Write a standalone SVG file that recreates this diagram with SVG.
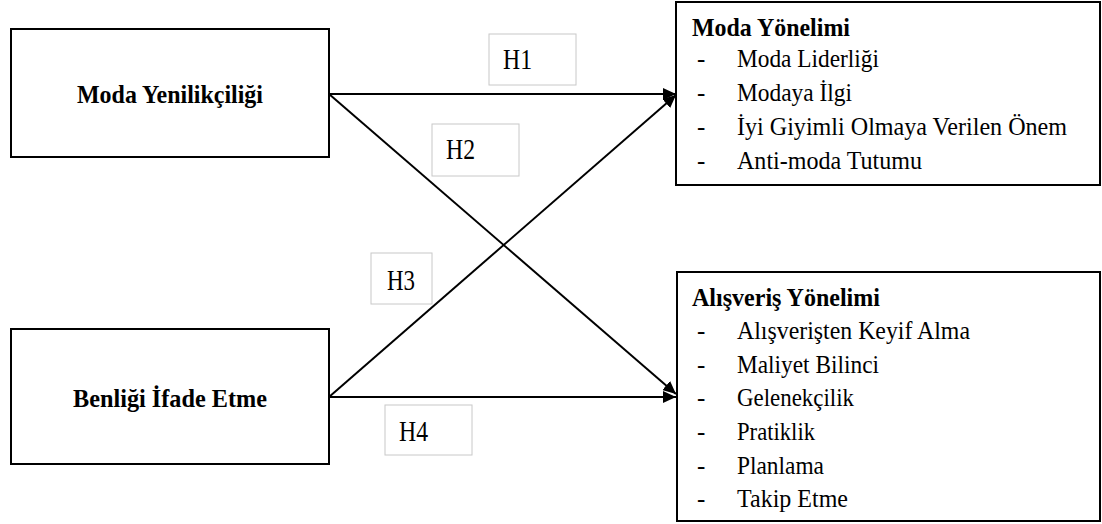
<svg xmlns="http://www.w3.org/2000/svg" width="1102" height="524" viewBox="0 0 1102 524">
<style>
  .box { fill: #ffffff; stroke: #000000; stroke-width: 2; }
  .lbl { fill: #ffffff; stroke: #c8c8c8; stroke-width: 1; }
  text { font-family: 'Liberation Serif', 'Times New Roman', 'DejaVu Serif', serif; font-size: 25px; fill: #000000; }
  .b { font-weight: bold; }
  .big { font-size: 26px; }
  .h { font-size: 30px; }
  .conn { stroke: #000000; stroke-width: 2; fill: none; marker-end: url(#arrow); }
</style>
<defs>
  <marker id="arrow" markerUnits="userSpaceOnUse" markerWidth="14" markerHeight="12" refX="13" refY="6" orient="auto">
    <path d="M0,0 L13,6 L0,12 z" fill="#000000"/>
  </marker>
</defs>
<rect width="1102" height="524" fill="#ffffff"/>

<g id="connectors">
  <line class="conn" x1="329" y1="94" x2="676" y2="94"/>
  <line class="conn" x1="329" y1="94" x2="676" y2="394"/>
  <line class="conn" x1="329" y1="397" x2="676" y2="95"/>
  <line class="conn" x1="329" y1="397" x2="676" y2="397"/>
</g>

<g id="moda-yenilikciligi">
  <rect class="box" x="11" y="29" width="318" height="128"/>
  <text class="b big" x="77" y="103" textLength="186" lengthAdjust="spacingAndGlyphs">Moda Yenilikçiliği</text>
</g>

<g id="benligi-ifade-etme">
  <rect class="box" x="11" y="329" width="318" height="135"/>
  <text class="b big" x="73" y="407" textLength="194" lengthAdjust="spacingAndGlyphs">Benliği İfade Etme</text>
</g>

<g id="moda-yonelimi">
  <rect class="box" x="676" y="2" width="424" height="183"/>
  <text class="b" x="692" y="36" textLength="158" lengthAdjust="spacingAndGlyphs">Moda Yönelimi</text>
  <text x="697" y="67">-</text>
  <text x="737" y="67" textLength="142" lengthAdjust="spacingAndGlyphs">Moda Liderliği</text>
  <text x="697" y="101">-</text>
  <text x="737" y="101" textLength="115" lengthAdjust="spacingAndGlyphs">Modaya İlgi</text>
  <text x="697" y="135">-</text>
  <text x="737" y="135" textLength="330" lengthAdjust="spacingAndGlyphs">İyi Giyimli Olmaya Verilen Önem</text>
  <text x="697" y="169">-</text>
  <text x="737" y="169" textLength="185" lengthAdjust="spacingAndGlyphs">Anti-moda Tutumu</text>
</g>

<g id="alisveris-yonelimi">
  <rect class="box" x="677" y="272" width="423" height="249"/>
  <text class="b" x="692" y="306" textLength="188" lengthAdjust="spacingAndGlyphs">Alışveriş Yönelimi</text>
  <text x="697" y="339">-</text>
  <text x="737" y="339" textLength="233" lengthAdjust="spacingAndGlyphs">Alışverişten Keyif Alma</text>
  <text x="697" y="373">-</text>
  <text x="737" y="373" textLength="142" lengthAdjust="spacingAndGlyphs">Maliyet Bilinci</text>
  <text x="697" y="406">-</text>
  <text x="737" y="406" textLength="117" lengthAdjust="spacingAndGlyphs">Gelenekçilik</text>
  <text x="697" y="440">-</text>
  <text x="737" y="440" textLength="78" lengthAdjust="spacingAndGlyphs">Pratiklik</text>
  <text x="697" y="474">-</text>
  <text x="737" y="474" textLength="87" lengthAdjust="spacingAndGlyphs">Planlama</text>
  <text x="697" y="507">-</text>
  <text x="737" y="507" textLength="111" lengthAdjust="spacingAndGlyphs">Takip Etme</text>
</g>

<g id="label-h1">
  <rect class="lbl" x="489" y="34" width="87" height="51"/>
  <text class="h" x="503" y="69" textLength="29" lengthAdjust="spacingAndGlyphs">H1</text>
</g>
<g id="label-h2">
  <rect class="lbl" x="432" y="124" width="87" height="52"/>
  <text class="h" x="446" y="159" textLength="29" lengthAdjust="spacingAndGlyphs">H2</text>
</g>
<g id="label-h3">
  <rect class="lbl" x="371" y="253" width="61" height="51"/>
  <text class="h" x="387" y="290" textLength="28" lengthAdjust="spacingAndGlyphs">H3</text>
</g>
<g id="label-h4">
  <rect class="lbl" x="385" y="405" width="87" height="50"/>
  <text class="h" x="399" y="441" textLength="29" lengthAdjust="spacingAndGlyphs">H4</text>
</g>
</svg>
